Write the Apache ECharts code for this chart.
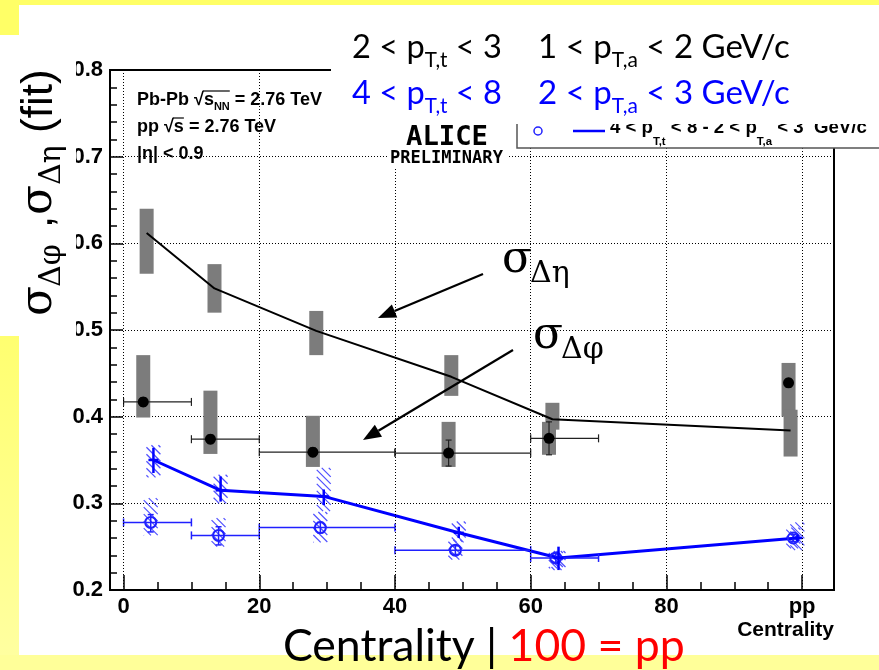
<!DOCTYPE html>
<html><head><meta charset="utf-8">
<script src="https://cdn.jsdelivr.net/npm/echarts@6/dist/echarts.min.js"></script>
<style>html,body{margin:0;padding:0;background:#fff}#c{width:879px;height:670px}</style>
</head><body><div id="c"></div>
<script>
// ---------------- data ----------------
// sigma_deta, 2<pT,t<3, 1<pT,a<2 (black line + gray syst. boxes)
const etaBlackX = [3.4, 13.4, 28.4, 48.3, 63.2, 98.3];
const etaBlackY = [0.612, 0.548, 0.499, 0.446, 0.397, 0.384];
const etaBlackSysLo = [0.565, 0.520, 0.471, 0.424, 0.385, 0.354];
const etaBlackSysHi = [0.640, 0.576, 0.522, 0.471, 0.416, 0.408];
// sigma_dphi, 2<pT,t<3, 1<pT,a<2 (black full markers)
const phiBlackX = [2.9, 12.8, 27.9, 47.9, 62.7, 98.0];
const phiBlackY = [0.417, 0.374, 0.359, 0.358, 0.375, 0.439];
const phiBlackXLo = [0, 10, 20, 40, 60, null];
const phiBlackXHi = [10, 20, 40, 60, 70, null];
const phiBlackErrLo = [0.412, 0.369, 0.354, 0.343, 0.356, 0.434];
const phiBlackErrHi = [0.422, 0.379, 0.364, 0.373, 0.394, 0.444];
const phiBlackSysLo = [0.399, 0.357, 0.342, 0.342, 0.356, 0.400];
const phiBlackSysHi = [0.471, 0.430, 0.401, 0.394, 0.394, 0.462];
// sigma_deta, 4<pT,t<8, 2<pT,a<3 (blue line + hatched boxes)
const etaBlueX = [4.4, 14.3, 29.5, 49.4, 64.1, 99.3];
const etaBlueY = [0.350, 0.315, 0.308, 0.266, 0.237, 0.260];
const etaBlueErrLo = [0.335, 0.302, 0.298, 0.260, 0.223, 0.256];
const etaBlueErrHi = [0.364, 0.331, 0.316, 0.273, 0.250, 0.264];
const etaBlueSysLo = [0.330, 0.300, 0.291, 0.255, 0.223, 0.246];
const etaBlueSysHi = [0.367, 0.333, 0.341, 0.279, 0.245, 0.278];
// sigma_dphi, 4<pT,t<8, 2<pT,a<3 (blue open circles)
const phiBlueX = [4.0, 14.0, 29.0, 48.9, 63.7, 98.7];
const phiBlueY = [0.278, 0.263, 0.272, 0.246, 0.237, 0.260];
const phiBlueXLo = [0, 10, 20, 40, 60, null];
const phiBlueXHi = [10, 20, 40, 60, 70, null];
const phiBlueErrLo = [0.267, 0.252, 0.266, 0.241, 0.232, 0.256];
const phiBlueErrHi = [0.287, 0.273, 0.278, 0.251, 0.242, 0.264];
const phiBlueSysLo = [0.263, 0.250, 0.255, 0.235, 0.225, 0.248];
const phiBlueSysHi = [0.306, 0.283, 0.290, 0.258, 0.245, 0.272];
// axes
const xTickValues = [0, 20, 40, 60, 80, 100];
const xTickLabels = ['0', '20', '40', '60', '80', 'pp'];
const xMinorValues = [0,5,10,15,20,25,30,35,40,45,50,55,60,65,70,75,80,85,90,95,100];
// annotation arrows (data coordinates: tail -> tip)
const arrowEta = [[52.97, 0.5646], [37.49, 0.5139]];
const arrowPhi = [[57.39, 0.4769], [35.28, 0.3731]];

// ---------------- helpers ----------------
const mctx = document.createElement('canvas').getContext('2d');
function tw(t, f) { mctx.font = f; return mctx.measureText(t).width; }
function fstr(s, size) { return (s.weight || 'normal') + ' ' + size + 'px ' + s.family; }
function txt(x, y, t, f, fill, z, align) {
  return {type: 'text', x: x, y: y, z: z || 60, silent: true,
    style: {text: t, font: f, fill: fill || '#000', textAlign: align || 'left', align: align || 'left',
      textVerticalAlign: 'middle', verticalAlign: 'middle'}};
}
function flow(segs, x0, baseline, targetW, z) {
  let scale = 1;
  if (targetW) {
    const w = segs.reduce((a, s) => a + tw(s.t, fstr(s, s.size)), 0);
    scale = targetW / w;
  }
  let x = x0; const out = [];
  segs.forEach(s => {
    const size = s.size * scale, f = fstr(s, size);
    out.push(txt(x, baseline + (s.dy || 0) * scale - 0.35 * size, s.t, f, s.fill, z));
    x += tw(s.t, f);
  });
  return out;
}
function hatchLines(x0, y0, w, h, step) {
  const segs = [];
  for (let c = -w + 2; c < h; c += step) {
    const xs = x0 + Math.max(0, -c), xe = x0 + Math.min(w, h - c);
    if (xe > xs) segs.push({type: 'line', shape: {x1: xs, y1: y0 + c + (xs - x0), x2: xe, y2: y0 + c + (xe - x0)},
      style: {stroke: '#5050ff', lineWidth: 1.2}});
  }
  return segs;
}
function boxSeries(xs, lo, hi, halfPx, kind, z) {
  return {type: 'custom', silent: true, z: z, xAxisIndex: 0, yAxisIndex: 0,
    data: xs.map((x, i) => [x, lo[i], hi[i]]),
    renderItem(params, api) {
      const top = api.coord([api.value(0), api.value(2)]);
      const bot = api.coord([api.value(0), api.value(1)]);
      const x0 = top[0] - halfPx, y0 = top[1], w = 2 * halfPx, h = bot[1] - top[1];
      if (kind === 'gray') return {type: 'rect', shape: {x: x0, y: y0, width: w, height: h}, style: {fill: '#7c7c7c'}};
      return {type: 'group', children: hatchLines(x0, y0, w, h, 7)};
    }};
}
function pointSeries(xs, ys, xlo, xhi, elo, ehi, st, z) {
  return {type: 'custom', silent: true, z: z, xAxisIndex: 0, yAxisIndex: 0,
    data: xs.map((x, i) => [x, ys[i]]),
    renderItem(params, api) {
      const i = params.dataIndex, ch = [];
      const c = api.coord([xs[i], ys[i]]);
      const ls = {stroke: st.color, lineWidth: st.hw};
      if (xlo[i] != null) {
        const a = api.coord([xlo[i], ys[i]]), b = api.coord([xhi[i], ys[i]]);
        ch.push({type: 'line', shape: {x1: a[0], y1: a[1], x2: b[0], y2: b[1]}, style: ls});
        ch.push({type: 'line', shape: {x1: a[0], y1: a[1] - 4, x2: a[0], y2: a[1] + 4}, style: ls});
        ch.push({type: 'line', shape: {x1: b[0], y1: b[1] - 4, x2: b[0], y2: b[1] + 4}, style: ls});
      }
      if (elo[i] != null) {
        const lo = api.coord([xs[i], elo[i]]), hi = api.coord([xs[i], ehi[i]]);
        const vs = {stroke: st.color, lineWidth: st.vw};
        ch.push({type: 'line', shape: {x1: lo[0], y1: lo[1], x2: hi[0], y2: hi[1]}, style: vs});
        ch.push({type: 'line', shape: {x1: lo[0] - st.cap, y1: lo[1], x2: lo[0] + st.cap, y2: lo[1]}, style: vs});
        ch.push({type: 'line', shape: {x1: hi[0] - st.cap, y1: hi[1], x2: hi[0] + st.cap, y2: hi[1]}, style: vs});
      }
      if (st.marker === 'full') ch.push({type: 'circle', shape: {cx: c[0], cy: c[1], r: 5.5}, style: {fill: '#000'}});
      else if (st.marker === 'open') ch.push({type: 'circle', shape: {cx: c[0], cy: c[1], r: 5.5}, style: {fill: 'none', stroke: st.color, lineWidth: 2}});
      else if (st.marker === 'cross') ch.push({type: 'line', shape: {x1: c[0] - 5, y1: c[1], x2: c[0] + 5, y2: c[1]}, style: {stroke: st.color, lineWidth: 2.5}});
      return {type: 'group', children: ch};
    }};
}

// ---------------- chart ----------------
const chart = echarts.init(document.getElementById('c'), null, {renderer: 'canvas'});
const axisFont = {fontFamily: 'Liberation Sans', fontWeight: 'bold', fontSize: 22, color: '#000'};
const option = {
  backgroundColor: '#fff',
  animation: false,
  grid: {left: 110, right: 45, top: 70, bottom: 80, show: true, borderColor: '#000', borderWidth: 2, backgroundColor: 'transparent'},
  xAxis: [
    {type: 'value', min: -2, max: 104.7, position: 'bottom', axisLine: {show: false, onZero: false}, splitLine: {show: false},
      axisTick: {show: true, inside: true, length: 8, customValues: xMinorValues, lineStyle: {color: '#000', width: 1.5}},
      axisLabel: {show: false}},
    {type: 'value', min: -2, max: 104.7, position: 'bottom', axisLine: {show: false, onZero: false}, splitLine: {show: false},
      axisTick: {show: true, inside: true, length: 15, customValues: xTickValues, lineStyle: {color: '#000', width: 1.5}},
      axisLabel: Object.assign({show: true, customValues: xTickValues, margin: 6,
        formatter: v => xTickLabels[xTickValues.indexOf(v)]}, axisFont)}
  ],
  yAxis: {type: 'value', min: 0.2, max: 0.8, interval: 0.1, position: 'left', axisLine: {show: false, onZero: false},
    axisTick: {show: true, inside: true, length: 13, lineStyle: {color: '#000', width: 1.5}},
    minorTick: {show: true, splitNumber: 5, length: 7, lineStyle: {color: '#000', width: 1.5}},
    splitLine: {show: true, lineStyle: {color: '#000', type: [1, 2], width: 1}},
    axisLabel: Object.assign({margin: 7, formatter: v => v.toFixed(1)}, axisFont)},
  series: [
    {type: 'line', data: [], silent: true, xAxisIndex: 0,
      markLine: {silent: true, symbol: 'none', label: {show: false}, emphasis: {disabled: true}, animation: false,
        lineStyle: {color: '#000', type: [1, 2], width: 1}, data: xTickValues.map(v => ({xAxis: v}))}},
    boxSeries(phiBlackX, phiBlackSysLo, phiBlackSysHi, 7, 'gray', 1),
    boxSeries(etaBlackX, etaBlackSysLo, etaBlackSysHi, 7, 'gray', 1),
    boxSeries(phiBlueX, phiBlueSysLo, phiBlueSysHi, 7, 'hatch', 1),
    boxSeries(etaBlueX, etaBlueSysLo, etaBlueSysHi, 7, 'hatch', 1),
    {type: 'line', silent: true, z: 3, showSymbol: false, data: etaBlackX.map((x, i) => [x, etaBlackY[i]]),
      lineStyle: {color: '#000', width: 2}},
    {type: 'line', silent: true, z: 3, showSymbol: false, data: etaBlueX.map((x, i) => [x, etaBlueY[i]]),
      lineStyle: {color: '#0000ff', width: 3}},
    pointSeries(phiBlackX, phiBlackY, phiBlackXLo, phiBlackXHi, phiBlackErrLo, phiBlackErrHi,
      {color: '#222', hw: 1.2, vw: 1.2, cap: 3, marker: 'full'}, 4),
    pointSeries(phiBlueX, phiBlueY, phiBlueXLo, phiBlueXHi, phiBlueErrLo, phiBlueErrHi,
      {color: '#2020ff', hw: 1.5, vw: 1.5, cap: 3, marker: 'open'}, 4),
    pointSeries(etaBlueX, etaBlueY, etaBlueX.map(() => null), etaBlueX.map(() => null), etaBlueErrLo, etaBlueErrHi,
      {color: '#0000ff', hw: 2.5, vw: 2.5, cap: 0, marker: 'cross'}, 4)
  ]
};
chart.setOption(option);

// ---------------- overlays ----------------
const sans = 'Liberation Sans', slide = 'Lato', serif = 'DejaVu Serif';
const g = [];
g.push({type: 'rect', z: 1, silent: true, shape: {x: 0, y: 0, width: 879, height: 5}, style: {fill: '#ffff66'}});
g.push({type: 'rect', z: 1, silent: true, shape: {x: 0, y: 5, width: 19, height: 30}, style: {fill: '#ffff66'}});
g.push({type: 'rect', z: 1, silent: true, shape: {x: 0, y: 336, width: 19, height: 319},
  style: {fill: new echarts.graphic.LinearGradient(0, 0, 0, 1, [{offset: 0, color: '#ffff70'}, {offset: 1, color: '#ffffa0'}])}});
g.push({type: 'rect', z: 1, silent: true, shape: {x: 0, y: 655, width: 879, height: 15}, style: {fill: '#ffff99'}});
g.push({type: 'rect', z: 50, silent: true, shape: {x: 0, y: 35, width: 76, height: 301}, style: {fill: '#fff'}});
g.push({type: 'rect', z: 50, silent: true, shape: {x: 517, y: 100, width: 400, height: 48}, style: {fill: '#fff', stroke: '#555', lineWidth: 1.5}});
g.push({type: 'circle', z: 55, silent: true, shape: {cx: 538, cy: 131, r: 4}, style: {fill: 'none', stroke: '#2020ff', lineWidth: 1.5}});
g.push({type: 'line', z: 55, silent: true, shape: {x1: 573, y1: 131, x2: 605, y2: 131}, style: {stroke: '#0000ff', lineWidth: 2.5}});
const LB = {family: sans, weight: 'bold'};
g.push(...flow([
  Object.assign({t: '4 < p', size: 18}, LB), Object.assign({t: 'T,t', size: 11, dy: 11}, LB),
  Object.assign({t: ' < 8 - 2 < p', size: 18}, LB), Object.assign({t: 'T,a', size: 11, dy: 11}, LB),
  Object.assign({t: ' < 3  GeV/c', size: 18}, LB)], 610, 134, 257, 55));
g.push({type: 'rect', z: 57, silent: true, shape: {x: 331, y: 5, width: 548, height: 119}, style: {fill: '#fff'}});
function ptLine(a, b, c, d, color, base) {
  const S = {family: slide, fill: color};
  g.push(...flow([Object.assign({t: a, size: 30}, S), Object.assign({t: b, size: 19, dy: 8}, S),
    Object.assign({t: c, size: 30}, S)], 352, base, 150, 60));
  g.push(...flow([Object.assign({t: d[0] + ' < p', size: 30}, S), Object.assign({t: 'T,a', size: 19, dy: 8}, S),
    Object.assign({t: d[1], size: 30}, S)], 538, base, 252, 60));
}
ptLine('2 < p', 'T,t', ' < 3', ['1', ' < 2 GeV/c'], '#000', 59);
ptLine('4 < p', 'T,t', ' < 8', ['2', ' < 3 GeV/c'], '#0000ff', 105);
g.push({type: 'rect', z: 50, silent: true, shape: {x: 388, y: 124, width: 119, height: 43}, style: {fill: '#fff'}});
g.push(...flow([{t: 'ALICE', family: 'DejaVu Sans Mono', weight: 'bold', size: 28}], 406, 147, 82, 60));
g.push(...flow([{t: 'PRELIMINARY', family: 'DejaVu Sans Mono', weight: 'bold', size: 16}], 390, 165, 113, 60));
const IB = {family: sans, weight: 'bold'};
const info1 = flow([Object.assign({t: 'Pb-Pb ', size: 18}, IB), Object.assign({t: '\u221A', size: 18}, IB),
  Object.assign({t: 's', size: 18}, IB), Object.assign({t: 'NN', size: 11, dy: 5}, IB),
  Object.assign({t: ' = 2.76 TeV', size: 18}, IB)], 137, 106, null, 60);
g.push(...info1);
g.push({type: 'line', z: 60, silent: true, shape: {x1: info1[2].x - 1, y1: 91, x2: info1[4].x, y2: 91}, style: {stroke: '#000', lineWidth: 1.2}});
const info2 = flow([Object.assign({t: 'pp ', size: 18}, IB), Object.assign({t: '\u221A', size: 18}, IB),
  Object.assign({t: 's', size: 18}, IB), Object.assign({t: ' = 2.76 TeV', size: 18}, IB)], 137, 133, null, 60);
g.push(...info2);
g.push({type: 'line', z: 60, silent: true, shape: {x1: info2[2].x - 1, y1: 118, x2: info2[3].x, y2: 118}, style: {stroke: '#000', lineWidth: 1.2}});
g.push(...flow([Object.assign({t: '|\u03B7| < 0.9', size: 18}, IB)], 137, 160, null, 60));
g.push(txt(834, 638 - 0.35 * 21, 'Centrality', 'bold 21px ' + sans, '#000', 60, 'right'));
g.push(...flow([{t: 'Centrality | ', family: slide, size: 44}, {t: '100 = pp', family: slide, size: 44, fill: '#ff0000'}], 283, 662, 402, 60));
const yt = [];
function ytp(lx, dy, t, f, size) { yt.push(txt(lx, dy - 0.35 * size, t, size + 'px ' + f, '#000', 60)); }
ytp(0, 0, '\u03C3', serif, 44);
ytp(29, 8, '\u0394\u03C6', serif, 30);
ytp(88, 0, ',', sans, 44);
ytp(101, 0, '\u03C3', serif, 44);
ytp(131, 8, '\u0394\u03B7', serif, 30);
ytp(183, 0, '(fit)', sans, 44);
g.push({type: 'group', x: 55, y: 316, rotation: Math.PI / 2, z: 60, silent: true, children: yt});
g.push(txt(502, 276 - 0.35 * 44, '\u03C3', '44px ' + serif, '#000', 60));
g.push(txt(530, 285 - 0.35 * 30, '\u0394\u03B7', '30px ' + serif, '#000', 60));
g.push(txt(533, 352 - 0.35 * 44, '\u03C3', '44px ' + serif, '#000', 60));
g.push(txt(561, 361 - 0.35 * 30, '\u0394\u03C6', '30px ' + serif, '#000', 60));
function arrow(seg) {
  const a = chart.convertToPixel({xAxisIndex: 0, yAxisIndex: 0}, seg[0]);
  const b = chart.convertToPixel({xAxisIndex: 0, yAxisIndex: 0}, seg[1]);
  const dx = b[0] - a[0], dy = b[1] - a[1], L = Math.hypot(dx, dy), ux = dx / L, uy = dy / L;
  const hl = 18, hw = 7, bx = b[0] - ux * hl, by = b[1] - uy * hl;
  g.push({type: 'line', z: 60, silent: true, shape: {x1: a[0], y1: a[1], x2: bx, y2: by}, style: {stroke: '#000', lineWidth: 2.2}});
  g.push({type: 'polygon', z: 60, silent: true, shape: {points: [b, [bx - uy * hw, by + ux * hw], [bx + uy * hw, by - ux * hw]]}, style: {fill: '#000'}});
}
arrow(arrowEta);
arrow(arrowPhi);
chart.setOption({graphic: {elements: g}});
</script>
</body></html>
